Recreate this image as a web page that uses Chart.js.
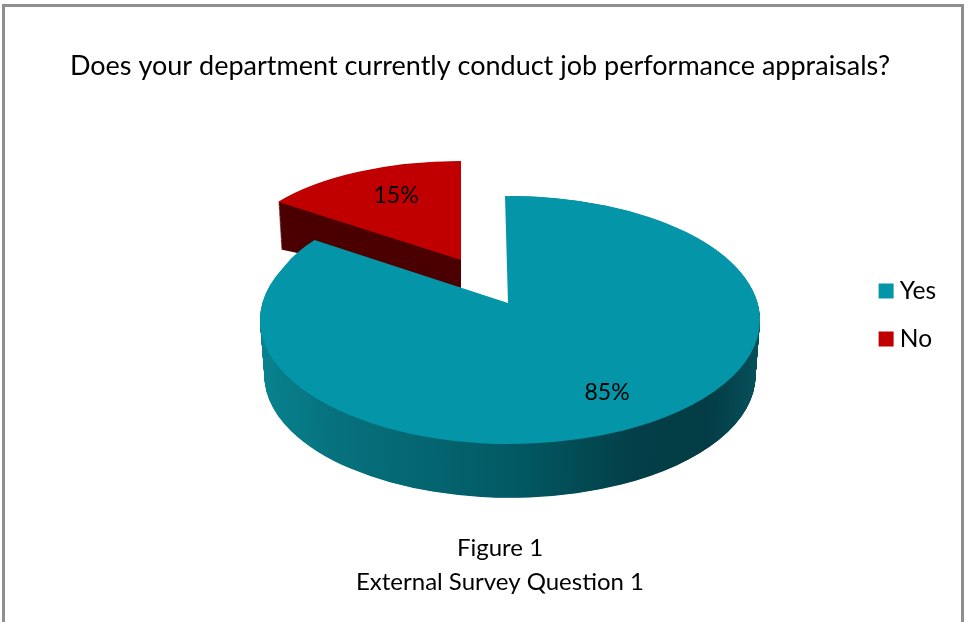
<!DOCTYPE html>
<html>
<head>
<meta charset="utf-8">
<title>Job performance appraisals</title>
<script src="https://cdn.jsdelivr.net/npm/chart.js@4"></script>
<style>
  body { margin: 0; background: #fff; }
  #wrap { position: relative; width: 965px; height: 622px; overflow: hidden; }
  #frame { position: absolute; left: 2px; top: 4px; width: 956px; height: 640px; border: 3px solid #8f8f8f; }
</style>
</head>
<body>
<div id="wrap">
  <canvas id="myChart" width="965" height="622"></canvas>
  <div id="frame"></div>
</div>
<script>
const categories = ["Yes", "No"];
const values = [85, 15];
const colors = ["#0595a8", "#c00000"];
const chartTitle = "Does your department currently conduct job performance appraisals?";
const captionLines = ["Figure 1", "External Survey Question 1"];

const FONT = "Lato, Carlito, 'Open Sans', sans-serif";

// tilted view of each slice: top face ellipse, wall depth, perspective
const tealFace = { x: 510, y: 320, rx: 250, ry: 124, depth: 56, taper: 0.018, skew: 0, lean: 0 };
const tealApex = { x: 508, y: 303, rx: 237, ry: 107, depth: 0, taper: 0, skew: 0, lean: 0.028 };
const redFace = { x: 461, y: 260, rx: 226, ry: 99, depth: 28, taper: 0.016, skew: 0.104, lean: 0 };
const labelSpots = [[0.855, 0.66], [0.633, 0.735]];

function drawFace(ctx, arc, face, t, fill) {
  const r = arc.outerRadius;
  const shrink = 1 - face.taper * t;
  ctx.save();
  ctx.translate(face.x, face.y + face.depth * t);
  ctx.transform(1, -face.skew * t, face.lean, 1, 0, 0);
  ctx.scale(face.rx * shrink / r, face.ry * shrink / r);
  ctx.translate(-arc.x, -arc.y);
  const saved = arc.options;
  arc.options = Object.assign({}, saved, { backgroundColor: fill });
  arc.draw(ctx);
  arc.options = saved;
  ctx.restore();
}

function drawWall(ctx, arc, face, fill) {
  const steps = face.depth * 2;
  for (let i = steps; i > 0; i--) {
    drawFace(ctx, arc, face, i / steps, fill);
  }
}

const pie3d = {
  id: "pie3d",
  beforeDatasetDraw(chart) {
    const ctx = chart.ctx;
    const arcs = chart.getDatasetMeta(0).data;
    const teal = arcs[0];
    const red = arcs[1];

    drawWall(ctx, red, redFace, "#4c0000");
    drawFace(ctx, red, redFace, 0, colors[1]);

    const side = ctx.createLinearGradient(teal.x - teal.outerRadius, 0, teal.x + teal.outerRadius, 0);
    side.addColorStop(0, "#08828f");
    side.addColorStop(0.15, "#06717d");
    side.addColorStop(0.5, "#025a64");
    side.addColorStop(0.75, "#033f48");
    side.addColorStop(0.9, "#033c45");
    side.addColorStop(1, "#06505a");
    drawWall(ctx, teal, tealFace, side);
    drawFace(ctx, teal, tealFace, 0, colors[0]);
    drawFace(ctx, teal, tealApex, 0, colors[0]);

    // percent labels
    ctx.save();
    ctx.font = "23px " + FONT;
    ctx.fillStyle = "#000";
    ctx.textAlign = "center";
    ctx.textBaseline = "middle";
    [tealFace, redFace].forEach((face, i) => {
      const mid = (arcs[i].startAngle + arcs[i].endAngle) / 2;
      const lx = face.x + Math.cos(mid) * face.rx * labelSpots[i][0];
      const ly = face.y + Math.sin(mid) * face.ry * labelSpots[i][1];
      ctx.fillText(values[i] + "%", lx, ly);
    });
    // caption under the pie
    ctx.font = "24px " + FONT;
    ctx.fillText(captionLines[0], 500, 548);
    ctx.fillText(captionLines[1], 500, 582);
    ctx.restore();
    return false;
  }
};

new Chart(document.getElementById("myChart"), {
  type: "pie",
  data: {
    labels: categories,
    datasets: [{ data: values, backgroundColor: colors, borderWidth: 0 }]
  },
  plugins: [pie3d],
  options: {
    responsive: false,
    animation: false,
    events: [],
    layout: { padding: { left: 14, right: 19, top: 32, bottom: 24 } },
    plugins: {
      tooltip: { enabled: false },
      title: {
        display: true,
        text: chartTitle,
        color: "#000",
        font: { family: FONT, size: 27, weight: "normal" },
        padding: { top: 18, bottom: 20 }
      },
      legend: {
        position: "right",
        labels: {
          color: "#000",
          font: { family: FONT, size: 24.5 },
          boxWidth: 3,
          boxHeight: 3,
          padding: 23.5,
          generateLabels(chart) {
            return Chart.controllers.pie.overrides.plugins.legend.labels.generateLabels(chart).map((item) => {
              item.lineWidth = 12;
              item.strokeStyle = item.fillStyle;
              return item;
            });
          }
        }
      }
    }
  }
});
</script>
</body>
</html>
